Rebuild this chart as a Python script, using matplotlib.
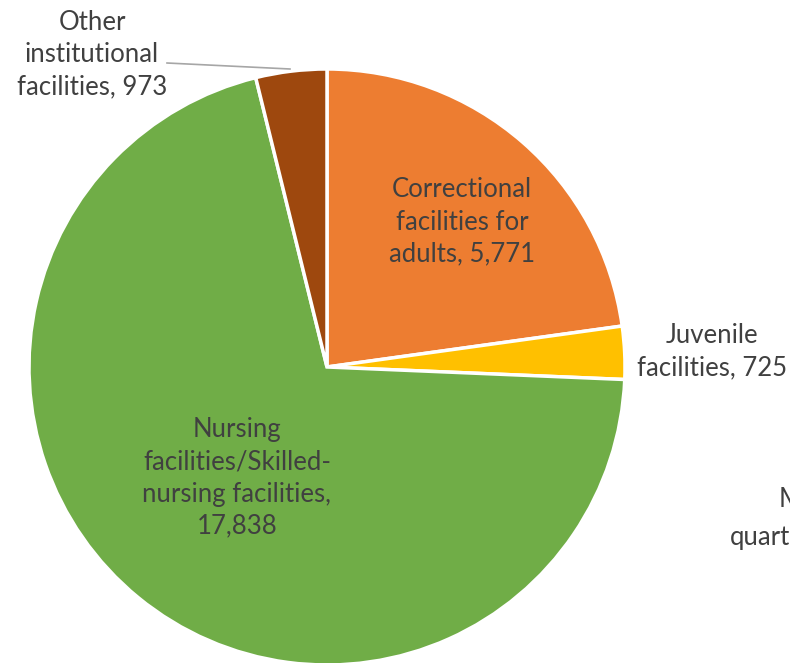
import matplotlib
matplotlib.use("Agg")
import matplotlib.pyplot as plt

categories = ["Correctional\nfacilities for\nadults", "Juvenile\nfacilities",
              "Nursing\nfacilities/Skilled-\nnursing facilities,", "Other\ninstitutional\nfacilities"]
values = [5771, 725, 17838, 973]
colors = ["#ED7D31", "#FFC000", "#70AD47", "#9E480E"]

plt.rcParams['font.family'] = ['Lato', 'DejaVu Sans']
fig = plt.figure(figsize=(7.9, 6.63), dpi=100)
ax = fig.add_axes([0, 0, 1, 1])

cx, cy, r = 327, 296, 298
wedges, _ = ax.pie(values, colors=colors, startangle=90, counterclock=False,
                   center=(cx, cy), radius=r, explode=[0.012, 0, 0, 0],
                   wedgeprops=dict(edgecolor='white', linewidth=2.5), frame=True)
ax.set_xlim(0, 790)
ax.set_ylim(0, 663)
ax.set_aspect('equal')
ax.axis('off')

tc = "#404040"
fs = 18.5
ls = 1.36
ax.text(462, 441, f"Correctional\nfacilities for\nadults, {values[0]:,}", ha='center', va='center',
        fontsize=fs, color=tc, linespacing=ls)
ax.text(712, 311, f"Juvenile\nfacilities, {values[1]:,}", ha='center', va='center',
        fontsize=fs, color=tc, linespacing=ls)
ax.text(237, 185, f"Nursing\nfacilities/Skilled-\nnursing facilities,\n{values[2]:,}", ha='center', va='center',
        fontsize=fs, color=tc, linespacing=ls)
ax.text(92, 608, f"Other\ninstitutional\nfacilities, {values[3]:,}", ha='center', va='center',
        fontsize=fs, color=tc, linespacing=ls)
ax.plot([167, 290], [600, 594], color="#A6A6A6", lw=1.2)

ax.text(779, 163, "Military", ha='left', va='center', fontsize=fs, color=tc)
ax.text(730, 126, "quarters", ha='left', va='center', fontsize=fs, color=tc)

fig.savefig("out.png", dpi=100)
